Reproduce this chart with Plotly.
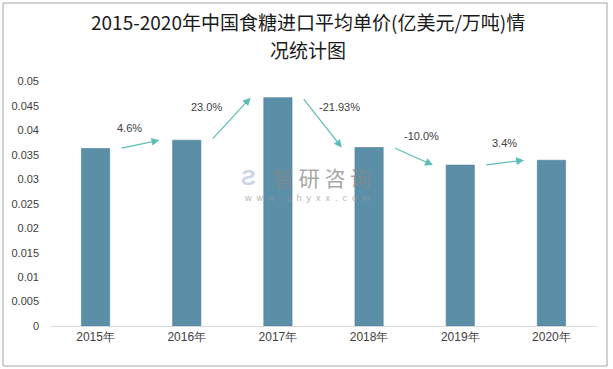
import plotly.graph_objects as go

years = ["2015年", "2016年", "2017年", "2018年", "2019年", "2020年"]
prices = [0.0363, 0.0380, 0.0467, 0.0365, 0.0329, 0.0339]
growth_labels = ["4.6%", "23.0%", "-21.93%", "-10.0%", "3.4%"]
y_ticks = [0, 0.005, 0.01, 0.015, 0.02, 0.025, 0.03, 0.035, 0.04, 0.045, 0.05]
y_tick_text = ["0", "0.005", "0.01", "0.015", "0.02", "0.025", "0.03", "0.035", "0.04", "0.045", "0.05"]
title_lines = ["2015-2020年中国食糖进口平均单价(亿美元/万吨)情", "况统计图"]

xs = list(range(len(years)))

W, H = 613, 369
L, R, T, B = 50, 16, 81, 43
PW, PH = W - L - R, H - T - B


def px_x(p):
    return (p - L) / PW


def px_y(p):
    return (H - B - p) / PH


fig = go.Figure()
fig.add_trace(go.Bar(
    x=xs, y=prices, width=0.31,
    marker=dict(color="#5b8fa8", line=dict(color="#4f7f97", width=0.6)),
    hoverinfo="skip",
))

# label offsets (pixels) relative to arrow midpoints
label_shift = [(-10, 16), (-24, 12), (17, 16), (8, 20), (0, 20)]
tail_off, head_off = 0.27, 0.30
arrow_color = "#5cbdb6"
for i, lab in enumerate(growth_labels):
    x0, y0 = xs[i] + tail_off, prices[i]
    x1, y1 = xs[i + 1] - head_off, prices[i + 1]
    fig.add_annotation(x=x1, y=y1, ax=x0, ay=y0, xref="x", yref="y", axref="x", ayref="y",
                       showarrow=True, arrowhead=2, arrowsize=1.3, arrowwidth=1.2,
                       arrowcolor=arrow_color, text="", standoff=0, startstandoff=0)
    mx, my = (x0 + x1) / 2, (y0 + y1) / 2
    dx, dy = label_shift[i]
    fig.add_annotation(x=mx, y=my, xref="x", yref="y", text=lab, showarrow=False,
                       xshift=dx, yshift=dy,
                       font=dict(family="Liberation Sans, Arial", size=11, color="#404040"))

# title (two lines)
for line, py in zip(title_lines, [21.5, 49]):
    fig.add_annotation(x=px_x(W / 2 + 1), y=px_y(py), xref="paper", yref="paper", text=line,
                       showarrow=False, xanchor="center", yanchor="middle",
                       font=dict(family="Noto Sans CJK SC", size=19, color="#1a1a1a"))

# watermark
fig.add_annotation(x=px_x(322), y=px_y(177), xref="paper", yref="paper", text="智 研 咨 询",
                   showarrow=False,
                   font=dict(family="Noto Sans CJK SC", size=21, color="rgba(135,135,135,0.75)"))
fig.add_annotation(x=px_x(307), y=px_y(198), xref="paper", yref="paper",
                   text="w&nbsp;&nbsp;w&nbsp;&nbsp;w&nbsp;&nbsp;.&nbsp;&nbsp;c&nbsp;&nbsp;h&nbsp;&nbsp;y&nbsp;&nbsp;x&nbsp;&nbsp;x&nbsp;&nbsp;.&nbsp;&nbsp;c&nbsp;&nbsp;o&nbsp;&nbsp;m",
                   showarrow=False,
                   font=dict(family="Liberation Sans, Arial", size=9, color="rgba(150,150,150,0.75)"))
fig.add_annotation(x=px_x(248), y=px_y(177), xref="paper", yref="paper", text="<b>Ƨ</b>",
                   showarrow=False,
                   font=dict(family="Liberation Sans", size=22, color="rgba(170,185,215,0.6)"))

fig.update_layout(
    width=W, height=H,
    margin=dict(l=L, r=R, t=T, b=B),
    paper_bgcolor="white", plot_bgcolor="white",
    showlegend=False,
    xaxis=dict(range=[-0.5, 5.5], tickvals=xs, ticktext=years, showgrid=False, zeroline=False,
               showline=True, linecolor="#d9d9d9", linewidth=1, ticks="",
               tickfont=dict(family="Liberation Sans, Arial", size=12, color="#404040")),
    yaxis=dict(range=[0, 0.0501], tickvals=y_ticks, ticktext=y_tick_text, showgrid=False,
               zeroline=False, showline=False, ticks="", ticklabelstandoff=10,
               tickfont=dict(family="Liberation Sans, Arial", size=11, color="#404040")),
    shapes=[dict(type="rect", xref="paper", yref="paper", x0=px_x(3), x1=px_x(607), y0=px_y(366), y1=px_y(3),
                 line=dict(color="#a6a6a6", width=1), fillcolor="rgba(0,0,0,0)", layer="below")],
)

fig.write_html("out.html", config={"displayModeBar": False},
               post_script="document.body.style.margin='0';document.body.style.padding='0';")
